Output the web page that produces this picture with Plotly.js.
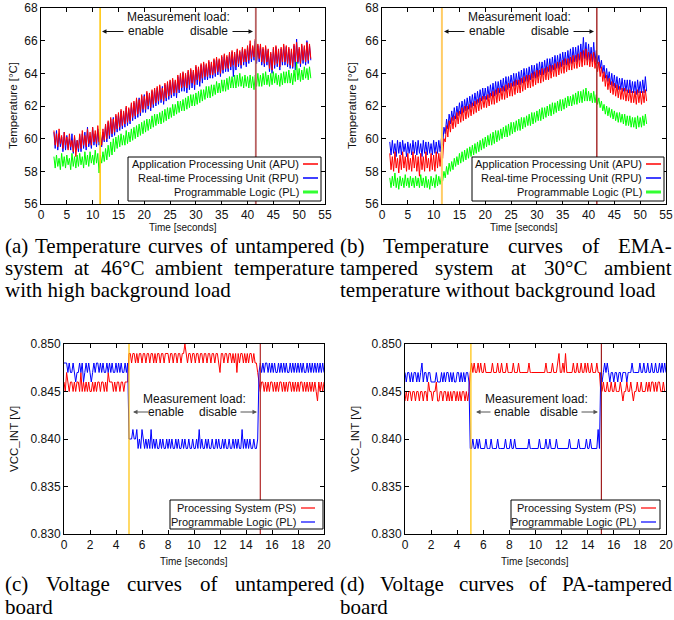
<!DOCTYPE html>
<html><head><meta charset="utf-8">
<script src="https://cdn.plot.ly/plotly-3.0.1.min.js"></script>
<style>html,body{margin:0;padding:0;background:#fff}#chart{width:674px;height:620px}</style>
</head><body><div id="chart"></div>
<script>
// ---------------- DATA ----------------
// (a) untampered, 46°C ambient, high background load; samples every 0.25 s from 2.5 s
const tA0 = 2.5, dtA = 0.25;
const aAPU = [60.5,59.6,60.3,59.5,60.6,59.7,60.2,59.4,60.4,59.6,60.1,59.3,60.3,59.5,59.9,59.2,60.2,58.9,59.9,59.4,
60.3,59.4,60.5,59.6,60.2,59.5,60.6,59.7,60.4,59.6,60.7,59.8,60.5,59.7,60.8,59.8,60.4,59.6,60.6,59.9,
60.9,60.0,61.1,60.2,61.3,60.3,61.2,60.4,61.5,60.6,61.6,60.7,61.8,60.8,61.7,60.9,62.0,61.0,61.9,61.1,
62.2,61.3,62.3,61.4,62.5,61.5,62.4,61.6,62.7,61.8,62.6,61.8,62.9,62.0,62.8,61.9,63.0,62.1,63.1,62.2,
63.2,62.3,63.3,62.4,63.1,62.3,63.4,62.5,63.5,62.6,63.6,62.7,63.7,62.8,63.6,62.8,63.9,63.0,64.0,63.1,
64.1,63.2,64.0,63.1,64.2,63.3,64.3,63.4,64.2,63.3,64.5,63.6,64.4,63.5,64.6,63.7,64.7,63.8,64.6,63.8,
64.8,63.9,64.7,63.9,64.9,64.0,65.0,64.1,64.9,64.0,65.1,64.2,65.2,64.3,65.1,64.3,65.3,64.4,65.4,64.5,
65.3,64.4,65.5,64.6,65.4,64.5,65.6,64.7,65.5,64.7,65.7,64.8,66.0,64.9,65.7,65.0,66.1,64.8,65.8,64.9,
65.8,64.7,65.6,64.6,65.7,64.7,65.5,64.3,65.3,64.2,65.6,64.5,65.7,64.6,65.5,64.4,65.6,64.7,65.8,64.7,
65.7,64.6,65.6,64.5,65.5,64.4,65.8,64.7,65.9,64.7,65.6,64.6,65.8,64.8,65.7,64.7,65.9,64.8,65.8,64.9];
const aRPU = [60.4,59.4,60.5,59.3,60.3,59.5,60.1,59.2,60.4,59.3,60.2,59.4,60.0,59.3,60.3,59.1,60.1,59.3,59.9,59.2,
60.2,59.2,60.3,59.4,60.4,59.3,60.7,59.5,60.1,59.4,60.7,59.6,60.3,59.5,60.6,59.6,60.2,59.5,60.4,59.8,
60.8,59.8,61.0,60.0,61.2,60.1,61.3,60.2,61.4,60.4,61.5,60.5,61.7,60.6,61.6,60.7,61.9,60.8,61.8,60.9,
62.1,61.1,62.2,61.2,62.4,61.3,62.5,61.4,62.6,61.6,62.7,61.6,62.8,61.8,62.7,61.7,62.9,61.9,63.0,62.0,
63.1,62.1,63.2,62.2,63.2,62.1,63.3,62.3,63.4,62.4,63.5,62.5,63.6,62.6,63.5,62.5,63.8,62.8,63.9,62.9,
64.0,62.9,63.9,62.8,64.1,63.0,64.2,63.1,64.1,63.0,64.4,63.3,64.3,63.2,64.5,63.4,64.6,63.6,64.5,63.6,
64.7,63.7,64.6,63.7,64.8,63.8,64.9,63.9,64.8,63.8,65.0,64.0,65.1,64.1,65.0,64.1,65.2,64.2,65.3,63.8,
65.2,64.2,65.4,64.4,65.3,64.3,65.5,64.5,65.4,64.4,65.6,64.6,65.8,64.7,65.6,64.8,66.0,64.6,65.7,64.7,
65.7,64.5,65.5,64.4,65.6,64.5,65.4,64.1,65.2,64.0,65.5,64.3,65.6,64.4,65.4,64.2,65.5,64.5,65.7,64.5,
65.6,64.4,65.5,64.3,65.4,64.3,65.7,64.2,66.1,64.6,65.5,64.4,65.7,64.6,65.6,64.5,66.0,64.6,65.7,64.8];
const aPL = [58.9,58.2,59.0,58.3,58.8,58.1,59.1,58.3,58.9,58.2,59.0,58.4,58.8,58.1,59.1,58.3,58.9,58.2,59.0,58.3,
59.1,58.4,58.9,58.2,59.2,58.4,59.0,58.3,59.2,58.5,59.0,58.4,59.3,58.5,59.1,57.9,59.0,58.5,59.2,58.6,
59.4,58.7,59.6,58.9,59.8,59.0,60.0,59.2,60.1,59.4,60.2,59.5,60.3,59.6,60.2,59.6,60.5,59.7,60.4,59.8,
60.6,59.9,60.7,60.0,60.8,60.1,60.9,60.2,61.0,60.3,61.1,60.4,61.2,60.5,61.2,60.6,61.4,60.7,61.5,60.8,
61.5,60.9,61.6,60.9,61.7,61.0,61.8,61.1,61.9,61.2,61.9,61.3,62.1,61.4,62.1,61.5,62.3,61.6,62.3,61.7,
62.4,61.7,62.5,61.8,62.6,61.9,62.7,62.0,62.7,62.0,62.8,62.1,62.9,62.2,63.0,62.3,63.0,62.4,63.2,62.5,
63.2,62.5,63.3,62.6,63.3,62.7,63.5,62.8,63.4,62.8,63.6,62.9,63.6,62.9,63.7,63.0,63.8,63.1,63.8,63.1,
63.9,63.1,63.9,63.2,64.0,63.2,63.8,63.1,63.9,63.2,63.8,63.1,63.9,63.1,63.8,63.0,63.9,63.2,64.0,63.2,
63.9,63.2,64.0,63.3,64.1,63.3,63.9,63.2,64.0,63.3,64.1,63.4,64.0,63.3,63.9,63.2,64.0,63.3,64.1,63.4,
64.1,63.4,64.2,63.4,64.0,63.3,64.2,63.5,64.7,63.6,64.3,63.5,64.2,63.6,64.4,63.7,64.3,63.6,64.4,63.7];
const aEvents = [11.45, 41.6];   // enable, disable [s]

// (b) EMA-tampered, 30°C ambient, no background load; samples every 0.25 s from 1.5 s
const tB0 = 1.5, dtB = 0.25;
const bAPU = [59.1,58.1,58.9,58.0,59.2,58.2,58.8,57.9,59.0,58.1,59.2,58.2,58.9,58.0,59.1,58.1,58.8,58.0,59.2,58.2,
59.0,58.0,58.9,57.7,59.1,58.1,58.9,58.0,59.2,58.2,58.8,58.0,59.1,58.1,59.0,58.0,59.2,58.2,59.1,58.3,
59.3,58.8,60.0,59.8,60.8,60.1,61.1,60.4,61.3,60.6,61.4,60.7,61.6,60.9,61.7,61.0,61.9,61.1,62.0,61.2,
62.0,61.3,62.1,61.4,62.2,61.5,62.3,61.6,62.4,61.7,62.5,61.8,62.6,61.9,62.6,61.9,62.7,62.0,62.8,62.1,
62.9,62.1,63.0,62.2,63.1,62.3,63.1,62.4,63.2,62.4,63.3,62.5,63.4,62.6,63.4,62.6,63.5,62.7,63.6,62.8,
63.6,62.8,63.7,62.9,63.8,63.0,63.9,63.1,63.9,63.1,64.0,63.2,64.1,63.3,64.2,63.4,64.2,63.4,64.3,63.5,
64.3,63.6,64.4,63.6,64.5,63.7,64.5,63.8,64.6,63.8,64.7,63.9,64.7,64.0,64.8,64.0,64.9,64.1,64.9,64.2,
65.0,64.2,65.1,64.3,65.1,64.3,65.2,64.4,65.3,64.4,65.4,64.5,65.5,64.5,65.3,64.4,65.2,64.4,65.3,64.3,
65.0,64.1,64.7,63.8,64.4,63.5,64.1,63.2,63.9,63.0,63.7,62.8,63.5,62.7,63.4,62.6,63.3,62.5,63.2,62.4,
63.1,62.4,63.1,62.3,63.0,62.3,63.0,62.2,62.9,62.2,62.9,62.1,63.0,62.2,62.9,62.1,62.9,62.2,63.0,62.3];
const bRPU = [59.8,59.0,59.9,59.1,59.7,58.9,59.9,59.1,59.8,59.0,59.9,59.2,59.7,58.9,59.8,59.1,59.7,59.0,59.9,59.1,
59.8,59.0,59.9,59.1,59.7,58.9,59.9,59.1,59.8,59.0,59.8,59.1,59.7,59.0,59.9,59.1,59.8,59.1,59.9,59.2,
60.0,59.6,60.7,60.3,61.2,60.6,61.5,60.9,61.7,61.1,61.9,61.2,62.0,61.4,62.2,61.5,62.3,61.6,62.4,61.7,
62.5,61.8,62.6,61.9,62.7,62.0,62.8,62.1,62.9,62.2,63.0,62.3,63.1,62.4,63.1,62.4,63.2,62.5,63.3,62.6,
63.4,62.6,63.5,62.7,63.5,62.8,63.6,62.9,63.7,62.9,63.8,63.0,63.8,63.1,63.9,63.2,64.0,63.2,64.0,63.3,
64.1,63.3,64.2,63.4,64.3,63.5,64.3,63.5,64.4,63.6,64.5,63.7,64.5,63.7,64.6,63.8,64.7,63.9,64.7,63.9,
64.8,64.0,64.9,64.1,64.9,64.1,65.0,64.2,65.1,64.3,65.1,64.3,65.2,64.4,65.3,64.5,65.3,64.5,65.4,64.6,
65.5,64.6,65.6,64.7,65.6,64.7,65.7,64.8,65.8,64.8,66.2,64.9,65.9,64.8,65.8,64.8,65.6,64.7,65.9,64.7,
65.4,64.6,65.1,64.3,64.8,64.0,64.5,63.7,64.3,63.5,64.1,63.3,64.0,63.2,63.9,63.1,63.8,63.0,63.7,63.0,
63.7,62.9,63.6,62.9,63.6,62.8,63.6,62.8,63.5,62.8,63.5,62.7,63.6,62.8,63.5,62.8,63.6,62.8,63.8,62.9];
const bPL = [57.6,57.0,57.7,57.1,57.9,57.0,57.6,56.9,57.7,57.1,57.6,57.0,57.8,57.1,57.6,57.0,57.7,57.1,57.6,57.0,
57.7,57.1,57.6,57.0,57.8,57.1,57.6,57.0,57.7,57.0,57.5,56.9,57.7,57.1,57.6,57.0,57.8,57.1,57.7,57.2,
57.7,57.4,58.0,57.6,58.3,57.8,58.5,58.0,58.6,58.1,58.8,58.3,58.9,58.4,59.1,58.5,59.2,58.6,59.3,58.7,
59.4,58.8,59.5,58.9,59.6,59.0,59.7,59.1,59.8,59.2,59.9,59.3,60.0,59.4,60.1,59.5,60.2,59.6,60.3,59.6,
60.4,59.7,60.5,59.8,60.5,59.9,60.6,60.0,60.7,60.1,60.8,60.1,60.9,60.2,61.0,60.3,61.0,60.4,61.1,60.5,
61.2,60.5,61.3,60.6,61.3,60.7,61.4,60.8,61.5,60.8,61.6,60.9,61.6,61.0,61.7,61.1,61.8,61.1,61.9,61.2,
61.9,61.3,62.0,61.4,62.1,61.4,62.2,61.5,62.2,61.6,62.3,61.7,62.4,61.7,62.4,61.8,62.5,61.9,62.6,62.0,
62.6,62.0,62.7,62.1,62.8,62.1,62.9,62.2,62.9,62.2,63.0,62.3,63.1,62.3,62.9,62.3,62.8,62.2,62.9,62.2,
62.7,62.1,62.5,61.9,62.3,61.7,62.1,61.5,62.0,61.4,61.9,61.3,61.8,61.2,61.7,61.1,61.6,61.0,61.6,61.0,
61.5,60.9,61.5,60.8,61.4,60.8,61.4,60.7,61.3,60.7,61.3,60.6,61.4,60.7,61.3,60.7,61.4,60.8,61.5,60.9];
const bEvents = [11.6, 41.6];

// (c) untampered board, VCC_INT in mV, samples every 0.1 s from 0 s
const tV0 = 0, dtV = 0.1;
const cPS_mV = [846,845,847,846,845,846,846,845,846,845,846,846,845,847,845,846,845,846,845,846,
845,845,846,845,846,845,846,846,845,846,846,845,846,845,847,846,846,846,845,846,
845,846,846,845,846,846,845,846,846,846,
849,849,848,849,849,848,849,848,849,849,848,849,849,848,849,849,848,849,849,848,
849,848,849,849,848,849,849,848,849,849,849,848,849,849,848,849,849,848,849,849,
848,849,849,850,849,848,849,849,848,849,849,848,849,849,848,849,849,848,849,849,
848,849,849,848,849,849,848,849,849,848,847,849,849,848,849,849,848,849,849,848,
849,848,849,847,849,848,849,849,848,849,848,849,848,849,849,848,849,848,848,847,
846,845,846,846,845,846,845,846,845,846,846,845,846,845,846,845,846,846,845,846,
845,846,845,846,846,845,846,845,846,845,846,845,846,846,845,846,845,846,845,846,
845,846,845,846,845,844,846,845,846,845,846];
const cPL_mV = [848,848,848,847,848,847,847,848,847,846,847,847,848,847,848,846,847,848,847,848,
847,846,847,848,847,848,848,847,848,847,848,847,847,848,847,848,847,848,847,847,
848,847,848,847,848,847,847,848,847,848,
840,840,840,841,840,840,841,839,840,839,841,840,839,840,839,840,839,841,839,840,
839,840,839,839,840,839,840,839,839,840,839,840,839,840,839,839,840,839,840,839,
839,840,839,840,839,839,840,839,839,840,839,839,840,839,841,839,840,839,839,840,
839,840,839,839,840,839,839,840,839,840,839,839,840,839,840,839,839,840,839,839,
840,839,840,839,840,839,839,841,839,840,839,840,839,840,839,839,840,839,839,840,
847,848,847,848,847,848,848,847,848,847,848,847,848,847,847,848,847,848,847,848,
847,848,847,847,848,847,848,847,848,847,848,847,848,847,848,847,847,848,847,848,
847,848,847,848,847,848,847,848,847,848,847];
const cEvents = [5.0, 15.1];

// (d) PA-tampered board, VCC_INT in mV
const dPS_mV = [844,845,844,845,845,844,845,845,844,845,845,844,845,845,844,845,845,844,846,845,
845,844,845,845,846,844,844,845,845,844,845,845,844,845,844,845,844,845,845,844,
845,844,845,844,845,845,844,845,844,845,
847,848,847,848,847,847,848,847,848,847,847,848,847,847,847,847,847,848,847,847,
847,848,847,847,848,847,847,847,848,847,847,847,847,848,847,847,847,848,847,847,
847,847,847,847,847,848,847,847,847,847,847,847,847,847,847,847,847,847,848,847,
847,847,847,848,847,847,847,848,849,847,847,848,847,849,847,847,847,847,847,848,
847,847,848,847,847,848,847,847,848,847,848,847,847,848,847,847,847,848,847,847,
845,845,846,845,845,846,845,845,846,845,845,846,845,845,845,846,845,844,845,845,
846,845,845,846,845,844,845,845,846,845,845,846,845,845,845,846,845,846,845,846,
846,845,846,845,846,846,845,845,846,845,845];
const dPL_mV = [847,846,847,847,846,847,846,847,847,846,847,846,847,848,846,847,847,846,847,847,
846,846,846,846,847,846,846,846,847,846,847,846,847,847,846,847,846,847,846,846,
847,847,846,847,846,847,846,847,847,846,
839,839,840,839,839,840,839,840,839,839,839,839,840,839,839,839,840,839,839,839,
839,840,839,839,839,839,839,840,839,839,839,840,839,839,840,839,839,839,839,839,
839,839,839,839,839,840,839,839,839,839,839,839,839,840,839,839,839,839,840,839,
839,840,839,839,839,839,840,839,839,839,839,839,839,839,839,839,840,839,839,839,
839,839,839,840,839,839,839,839,839,840,839,839,840,839,839,839,839,839,841,839,
847,846,847,848,847,848,847,846,847,847,846,847,847,846,847,847,846,847,847,847,
846,847,847,847,848,847,847,847,847,847,848,847,847,848,847,847,848,847,847,848,
847,847,848,847,847,848,847,848,847,848,847];
const dEvents = [5.05, 15.05];

const tempLegend = ["Application Processing Unit (APU)", "Real-time Processing Unit (RPU)", "Programmable Logic (PL)"];
const voltLegend = ["Processing System (PS)", "Programmable Logic (PL)"];
const captions = {
  a: ["(a) Temperature curves of untampered", "system at 46°C ambient temperature", "with high background load"],
  b: ["(b) Temperature curves of EMA-", "tampered system at 30°C ambient", "temperature without background load"],
  c: ["(c) Voltage curves of untampered", "board"],
  d: ["(d) Voltage curves of PA-tampered", "board"]
};

// ---------------- DRAWING ----------------
const W = 674, H = 620;
const px = x => x / W, py = y => 1 - y / H;
const RED = '#ff0000', BLUE = '#0000ff', GREEN = '#00ff00';
const SANS = "'Liberation Sans', Arial, sans-serif";
const SERIF = "'Liberation Serif', 'Times New Roman', serif";
const times = (n, t0, dt) => Array.from({length: n}, (_, i) => +(t0 + i * dt).toFixed(3));
const toV = arr => arr.map(v => v / 1000);

function line(x, y, color, xa, ya, w) {
  return {type: 'scatter', mode: 'lines', x: x, y: y, xaxis: xa, yaxis: ya,
          line: {color: color, width: w || 1}, showlegend: false, hoverinfo: 'skip'};
}
const tA = times(aAPU.length, tA0, dtA), tB = times(bAPU.length, tB0, dtB);
const tV = times(cPS_mV.length, tV0, dtV);
const traces = [
  line(tA, aRPU, BLUE, 'x', 'y'), line(tA, aAPU, RED, 'x', 'y'), line(tA, aPL, GREEN, 'x', 'y'),
  line(tB, bRPU, BLUE, 'x2', 'y2'), line(tB, bAPU, RED, 'x2', 'y2'), line(tB, bPL, GREEN, 'x2', 'y2'),
  line(tV, toV(cPS_mV), RED, 'x3', 'y3'), line(tV, toV(cPL_mV), BLUE, 'x3', 'y3'),
  line(tV, toV(dPS_mV), RED, 'x4', 'y4'), line(tV, toV(dPL_mV), BLUE, 'x4', 'y4')
];

function axis(dom, range, dtick, anchor, fmt) {
  return {domain: dom, range: range, dtick: dtick, tick0: range[0], anchor: anchor,
    ticks: 'inside', ticklen: 4, tickwidth: 1, tickcolor: '#000', mirror: 'ticks',
    showline: true, linecolor: '#000', linewidth: 1, showgrid: false, zeroline: false,
    tickformat: fmt || '', tickfont: {family: SANS, size: 12, color: '#111'}, fixedrange: true};
}
const P = {
  a: {x0: 41, x1: 325, y0: 8, y1: 204},
  b: {x0: 382, x1: 666, y0: 8, y1: 204},
  c: {x0: 64, x1: 324, y0: 344, y1: 534},
  d: {x0: 405, x1: 666, y0: 344, y1: 534}
};
const dx = p => [px(p.x0), px(p.x1)], dy = p => [py(p.y1), py(p.y0)];

const layout = {
  width: W, height: H, autosize: false, margin: {l: 0, r: 0, t: 0, b: 0},
  paper_bgcolor: '#fff', plot_bgcolor: '#fff', showlegend: false,
  xaxis: axis(dx(P.a), [0, 55], 5, 'y'), yaxis: axis(dy(P.a), [56, 68], 2, 'x'),
  xaxis2: axis(dx(P.b), [0, 55], 5, 'y2'), yaxis2: axis(dy(P.b), [56, 68], 2, 'x2'),
  xaxis3: axis(dx(P.c), [0, 20], 2, 'y3'), yaxis3: axis(dy(P.c), [0.830, 0.850], 0.005, 'x3', '.3f'),
  xaxis4: axis(dx(P.d), [0, 20], 2, 'y4'), yaxis4: axis(dy(P.d), [0.830, 0.850], 0.005, 'x4', '.3f'),
  shapes: [], annotations: []
};
const S = layout.shapes, A = layout.annotations;

function vline(x, xa, ya, color, w) {
  S.push({type: 'line', xref: xa, yref: ya + ' domain', x0: x, x1: x, y0: 0, y1: 1,
          line: {color: color, width: w}, layer: 'above'});
}
vline(aEvents[0], 'x', 'y', '#ffc400', 1.5); vline(aEvents[1], 'x', 'y', '#b86060', 1.8);
vline(bEvents[0], 'x2', 'y2', '#ffcc66', 2); vline(bEvents[1], 'x2', 'y2', '#a83030', 1.5);
vline(cEvents[0], 'x3', 'y3', '#ffc000', 1.2); vline(cEvents[1], 'x3', 'y3', '#b02828', 1.2);
vline(dEvents[0], 'x4', 'y4', '#ffc000', 1.2); vline(dEvents[1], 'x4', 'y4', '#a02020', 1.2);

function txt(x, y, s, size, opts) {
  A.push(Object.assign({xref: 'paper', yref: 'paper', x: px(x), y: py(y), text: s, showarrow: false,
    xanchor: 'center', yanchor: 'middle', borderpad: 0,
    font: {family: SANS, size: size, color: '#111'}}, opts || {}));
}
function arrow(xTail, xHead, y, color) {
  A.push({xref: 'paper', yref: 'paper', x: px(xHead), y: py(y), ax: xTail - xHead, ay: 0,
    text: '', showarrow: true, arrowhead: 2, arrowsize: 0.9, arrowwidth: 1, arrowcolor: color});
}
function legend(box, rows, labels, colors, widths, textRight, s0, s1) {
  S.push({type: 'rect', xref: 'paper', yref: 'paper', x0: px(box[0]), x1: px(box[1]), y0: py(box[3]), y1: py(box[2]),
    line: {color: '#000', width: 1}, fillcolor: '#fff', layer: 'above'});
  labels.forEach((lab, i) => {
    txt(textRight, rows[i], lab, 11, {xanchor: 'right'});
    S.push({type: 'line', xref: 'paper', yref: 'paper', x0: px(s0), x1: px(s1), y0: py(rows[i]), y1: py(rows[i]),
      line: {color: colors[i], width: widths[i]}, layer: 'above'});
  });
}
// panel (a)
txt(178, 17.5, 'Measurement load:', 12);
txt(146, 31.5, 'enable', 12); txt(209, 31.5, 'disable', 12);
arrow(125, 102, 31.5, '#111'); arrow(231, 253, 31.5, '#111');
legend([128, 321, 157, 201], [164, 178, 192], tempLegend, [RED, BLUE, '#33ff33'], [1.5, 1.5, 3], 300, 303, 318);
txt(13, 106, 'Temperature [°C]', 11.5, {textangle: -90});
txt(183, 227, 'Time [seconds]', 10);
// panel (b)
txt(519, 17.5, 'Measurement load:', 12);
txt(487, 31.5, 'enable', 12); txt(550, 31.5, 'disable', 12);
arrow(466, 444, 31.5, '#111'); arrow(572, 594, 31.5, '#111');
legend([472, 664, 157, 201], [164, 178, 192], tempLegend, [RED, BLUE, '#33ff33'], [1.5, 1.5, 3], 643, 646, 661);
txt(352, 106, 'Temperature [°C]', 11.5, {textangle: -90});
txt(524, 227, 'Time [seconds]', 10);
// panel (c)
txt(194, 399, 'Measurement load:', 12);
txt(166, 412, 'enable', 12); txt(218, 412, 'disable', 12);
arrow(150, 133, 412, '#555'); arrow(239, 257, 412, '#555');
legend([170, 323, 500, 529], [508, 522], voltLegend, [RED, BLUE], [1.2, 1.2], 297, 301, 315);
txt(14, 439, 'VCC_INT [V]', 11.5, {textangle: -90});
txt(194, 561, 'Time [seconds]', 10);
// panel (d)
txt(536, 399, 'Measurement load:', 12);
txt(512, 412, 'enable', 12); txt(559, 412, 'disable', 12);
arrow(492, 476, 412, '#555'); arrow(580, 598, 412, '#555');
legend([511, 660, 500, 529], [508, 522], voltLegend, [RED, BLUE], [1.2, 1.2], 637, 641, 656);
txt(355, 439, 'VCC_INT [V]', 11.5, {textangle: -90});
txt(535, 561, 'Time [seconds]', 10);

// captions (justified, like the paper's two-column sub-captions)
const CAP = 21;
const ctx = document.createElement('canvas').getContext('2d');
ctx.font = CAP + "px 'Liberation Serif'";
function capLine(s, x0, x1, y, justify) {
  if (!justify) { txt(x0, y, s, CAP, {xanchor: 'left', font: {family: SERIF, size: CAP, color: '#000'}}); return; }
  const words = s.split(' ');
  const ws = words.map(w => ctx.measureText(w).width);
  const gap = (x1 - x0 - ws.reduce((a, b) => a + b, 0)) / (words.length - 1);
  let x = x0;
  words.forEach((w, i) => {
    txt(x, y, w, CAP, {xanchor: 'left', font: {family: SERIF, size: CAP, color: '#000'}});
    x += ws[i] + gap;
  });
}
const colL = [4, 333], colR = [339, 671];
[[captions.a, colL, [246, 268, 290]], [captions.b, colR, [246, 268, 290]],
 [captions.c, colL, [584, 606.5]], [captions.d, colR, [584, 606.5]]].forEach(([lines, col, ys]) => {
  lines.forEach((s, i) => capLine(s, col[0], col[1], ys[i], i < lines.length - 1));
});

Plotly.newPlot('chart', traces, layout, {staticPlot: true, displayModeBar: false});
</script></body></html>
